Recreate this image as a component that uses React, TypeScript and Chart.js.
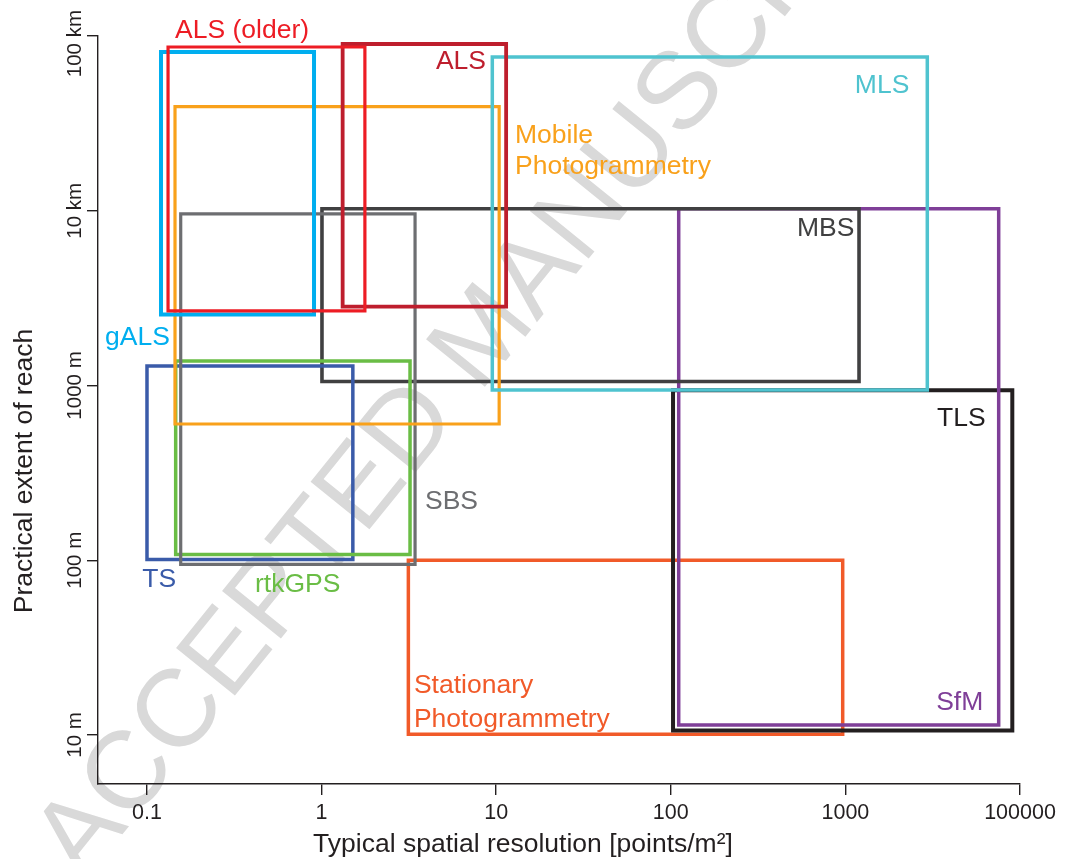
import React, { useEffect, useRef } from 'react';
import { Chart, registerables } from 'chart.js';

Chart.register(...registerables);

const FONT = '"Liberation Sans", Arial, Helvetica, sans-serif';
const INK = '#231F20';

// Survey methods (first = drawn on top)
const methodNames = [
  'ALS (older)',
  'gALS',
  'ALS',
  'MLS',
  'Mobile Photogrammetry',
  'SBS',
  'rtkGPS',
  'TS',
  'MBS',
  'SfM',
  'TLS',
  'Stationary Photogrammetry',
];
const methodColors = [
  '#ED1C24',
  '#00AEEF',
  '#BE1E2D',
  '#4FC3CF',
  '#F9A11B',
  '#6D6E71',
  '#6ABD45',
  '#3A5BA9',
  '#404041',
  '#7F3F98',
  '#231F20',
  '#F15A29',
];
// typical spatial resolution [points/m2]
const resolutionMin = [0.132, 0.1203, 1.32, 9.5, 0.1447, 0.156, 0.146, 0.1, 1.005, 111, 103, 3.14];
const resolutionMax = [1.77, 0.905, 11.4, 2945, 10.4, 3.43, 3.21, 1.51, 1197, 7550, 9035, 965];
// practical extent of reach [m]
const reachMin = [2670, 2548, 2825, 942, 602, 94.8, 108, 101, 1054, 11.4, 10.6, 10.1];
const reachMax = [86500, 81000, 90000, 75800, 39400, 9605, 1381, 1294, 10260, 10270, 938, 100];
const lineWidths = [3.2, 4, 3.8, 3.5, 3.2, 3.2, 3.5, 3.5, 3.6, 3.5, 4, 3.5];

// Text labels of the boxes
const labelTexts = ['ALS (older)', 'gALS', 'ALS', 'Mobile', 'Photogrammetry', 'MLS', 'SBS', 'rtkGPS', 'TS', 'MBS', 'SfM', 'TLS', 'Stationary', 'Photogrammetry'];
const labelSeries = [0, 1, 2, 4, 4, 3, 5, 6, 7, 8, 9, 10, 11, 11];
const labelResolution = [0.1447, 0.0575, 8.74, 12.82, 12.82, 2323, 3.91, 0.4156, 0.094, 1125, 6164, 6362, 3.38, 3.38];
const labelReach = [97400, 1705, 64500, 24510, 16230, 47370, 195.7, 66.07, 70.0, 7170, 13.9, 586.5, 17.46, 11.16];
const labelAlign = ['left', 'left', 'right', 'left', 'left', 'right', 'left', 'left', 'left', 'right', 'right', 'right', 'left', 'left'];

// Axes
const xTickValues = [0.1, 1, 10, 100, 1000, 10000];
const xTickLabels = ['0.1', '1', '10', '100', '1000', '100000'];
const yTickValues = [10, 100, 1000, 10000, 100000];
const yTickLabels = ['10 m', '100 m', '1000 m', '10 km', '100 km'];
const xRange = [0.05241, 10000];
const yRange = [5.241, 100000];
const xTitle = 'Typical spatial resolution [points/m²]';
const yTitle = 'Practical extent of reach';
const watermark = 'ACCEPTED MANUSCRIPT';

const watermarkPlugin = {
  id: 'watermark',
  beforeDraw(chart: any) {
    const ctx = chart.ctx;
    ctx.save();
    ctx.translate(83, 883);
    ctx.rotate((-51 * Math.PI) / 180);
    ctx.font = `110px ${FONT}`;
    ctx.fillStyle = '#D9D9D9';
    ctx.textAlign = 'left';
    ctx.textBaseline = 'alphabetic';
    ctx.fillText(watermark, 0, 0);
    ctx.restore();
  },
};

const textPlugin = {
  id: 'texts',
  afterDatasetsDraw(chart: any) {
    const ctx = chart.ctx;
    const xs = chart.scales.x;
    const ys = chart.scales.y;
    ctx.save();
    ctx.font = `26.5px ${FONT}`;
    ctx.textBaseline = 'alphabetic';
    labelTexts.forEach((t, k) => {
      ctx.fillStyle = methodColors[labelSeries[k]];
      ctx.textAlign = labelAlign[k];
      ctx.fillText(t, xs.getPixelForValue(labelResolution[k]), ys.getPixelForValue(labelReach[k]));
    });
    ctx.restore();
  },
  afterDraw(chart: any) {
    const ctx = chart.ctx;
    const xs = chart.scales.x;
    const ys = chart.scales.y;
    const area = chart.chartArea;
    ctx.save();
    ctx.fillStyle = INK;
    ctx.textBaseline = 'alphabetic';
    // x tick labels
    ctx.font = `21.5px ${FONT}`;
    ctx.textAlign = 'center';
    xTickValues.forEach((v, i) => {
      ctx.fillText(xTickLabels[i], xs.getPixelForValue(v), area.bottom + 35);
    });
    // y tick labels (rotated), kept inside the figure
    ctx.font = `20.5px ${FONT}`;
    yTickValues.forEach((v, i) => {
      const half = ctx.measureText(yTickLabels[i]).width / 2;
      const cy = Math.max(ys.getPixelForValue(v), 10 + half);
      ctx.save();
      ctx.translate(area.left - 17, cy);
      ctx.rotate(-Math.PI / 2);
      ctx.textAlign = 'center';
      ctx.fillText(yTickLabels[i], 0, 0);
      ctx.restore();
    });
    // axis titles
    ctx.font = `26.5px ${FONT}`;
    ctx.textAlign = 'center';
    ctx.fillText(xTitle, 523, area.bottom + 68);
    ctx.save();
    ctx.translate(32, 471);
    ctx.rotate(-Math.PI / 2);
    ctx.fillText(yTitle, 0, 0);
    ctx.restore();
    ctx.restore();
  },
};

export default function App() {
  const canvasRef = useRef<HTMLCanvasElement | null>(null);

  useEffect(() => {
    if (!canvasRef.current) return;
    const datasets = methodNames.map((name, i) => ({
      label: name,
      data: [
        { x: resolutionMin[i], y: reachMax[i] },
        { x: resolutionMax[i], y: reachMax[i] },
        { x: resolutionMax[i], y: reachMin[i] },
        { x: resolutionMin[i], y: reachMin[i] },
        { x: resolutionMin[i], y: reachMax[i] },
      ],
      showLine: true,
      borderColor: methodColors[i],
      backgroundColor: methodColors[i],
      borderWidth: lineWidths[i],
      pointRadius: 0,
      pointHoverRadius: 0,
      fill: false,
      tension: 0,
      borderJoinStyle: 'miter',
      borderCapStyle: 'square',
      clip: false,
    }));

    const axisCommon = {
      type: 'logarithmic',
      ticks: { display: false },
      grid: {
        display: true,
        drawOnChartArea: false,
        drawTicks: true,
        tickLength: 11,
        color: INK,
        lineWidth: 1.4,
      },
      border: { display: true, color: INK, width: 1.4 },
    };

    const chart = new Chart(canvasRef.current, {
      type: 'scatter',
      data: { datasets } as any,
      options: {
        responsive: false,
        animation: false,
        events: [],
        devicePixelRatio: 1,
        layout: { padding: { left: 0, right: 50, top: 36, bottom: 0 } },
        plugins: {
          legend: { display: false },
          tooltip: { enabled: false },
          title: { display: false },
        },
        scales: {
          x: {
            ...axisCommon,
            position: 'bottom',
            min: xRange[0],
            max: xRange[1],
            afterBuildTicks: (s: any) => {
              s.ticks = xTickValues.map((v) => ({ value: v }));
            },
            afterFit: (s: any) => {
              s.height = 75;
            },
          },
          y: {
            ...axisCommon,
            position: 'left',
            min: yRange[0],
            max: yRange[1],
            afterBuildTicks: (s: any) => {
              s.ticks = yTickValues.map((v) => ({ value: v }));
            },
            afterFit: (s: any) => {
              s.width = 98;
            },
          },
        },
      } as any,
      plugins: [watermarkPlugin, textPlugin],
    });
    return () => chart.destroy();
  }, []);

  return (
    <div style={{ position: 'absolute', left: 0, top: 0, width: 1070, height: 859, background: '#fff' }}>
      <canvas ref={canvasRef} width={1070} height={859} style={{ display: 'block' }} />
    </div>
  );
}
